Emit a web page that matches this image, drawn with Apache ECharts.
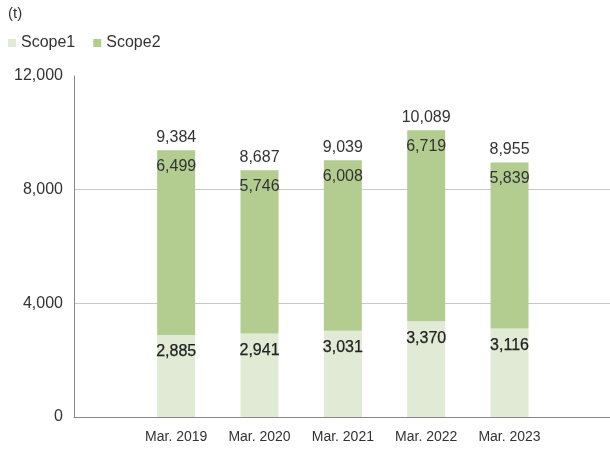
<!DOCTYPE html>
<html><head><meta charset="utf-8">
<script src="https://cdn.jsdelivr.net/npm/echarts@6/dist/echarts.min.js"></script>
<style>html,body{margin:0;padding:0;background:#fff}#c{width:610px;height:449px}</style>
</head><body><div id="c"></div>
<script>
var categories = ['Mar. 2019','Mar. 2020','Mar. 2021','Mar. 2022','Mar. 2023'];
var scope1 = [2885, 2941, 3031, 3370, 3116];
var scope2 = [6499, 5746, 6008, 6719, 5839];
var totals = [9384, 8687, 9039, 10089, 8955];
var yTicks = [0, 4000, 8000, 12000];

var FONT = '"Liberation Sans", Arial, sans-serif';
function fmt(v){ return Number(v).toLocaleString('en-US'); }

var chart = echarts.init(document.getElementById('c'), null, {renderer:'canvas'});
chart.setOption({
  animation: false,
  textStyle: {fontFamily: FONT},
  graphic: [{type:'text', left: 8, top: 6, style:{text:'(t)', fontSize: 15, fill:'#333', fontFamily: FONT}}],
  legend: {
    left: 3, top: 30, itemWidth: 8, itemHeight: 8, itemGap: 18, icon: 'rect',
    textStyle: {fontSize: 16, color: '#333', fontFamily: FONT},
    data: ['Scope1','Scope2']
  },
  grid: [
    {left: 74, right: 0, top: 76, bottom: 32, containLabel: false},
    {left: 134.5, width: 416.7, top: 76, bottom: 32, containLabel: false}
  ],
  xAxis: [
    {gridIndex: 0, type: 'value', min: 0, max: 1, axisLine: {show: true, lineStyle:{color:'#888', width: 1}},
     axisTick: {show:false}, axisLabel: {show:false}, splitLine: {show:false}},
    {gridIndex: 1, type: 'category', data: categories, axisLine:{show:false}, axisTick:{show:false},
     axisLabel:{fontSize: 14, color:'#333', margin: 13, fontFamily: FONT}}
  ],
  yAxis: [
    {gridIndex: 0, type: 'value', min: yTicks[0], max: yTicks[yTicks.length-1], interval: 4000,
     axisLine:{show:true, lineStyle:{color:'#888'}}, axisTick:{show:false},
     axisLabel:{fontSize: 16, color:'#333', margin: 11, formatter: function(v){return fmt(v);}, fontFamily: FONT},
     splitLine:{show:true, lineStyle:{color:['#c8c8c8','#c8c8c8','#c8c8c8','rgba(0,0,0,0)']}}},
    {gridIndex: 1, type: 'value', min: 0, max: 12000, show: false, splitLine:{show:false}}
  ],
  series: [
    {name:'Scope1', type:'bar', stack:'s', xAxisIndex:1, yAxisIndex:1, barWidth: 38, data: scope1,
     itemStyle:{color:'#e1ead4'},
     label:{show:true, position:'insideTop', distance: 9, fontSize: 16, color:'#222',
            textBorderColor:'#222', textBorderWidth: 0.25, formatter: function(p){return fmt(p.value);}, fontFamily: FONT}},
    {name:'Scope2', type:'bar', stack:'s', xAxisIndex:1, yAxisIndex:1, barWidth: 38, data: scope2,
     itemStyle:{color:'#b2cd8f'},
     label:{show:true, position:'insideTop', distance: 8, fontSize: 16, color:'#333',
            formatter: function(p){return fmt(p.value);}, fontFamily: FONT}},
    {name:'Total', type:'bar', stack:'s', xAxisIndex:1, yAxisIndex:1, barWidth: 38,
     data: totals.map(function(){return 0;}),
     itemStyle:{color:'rgba(0,0,0,0)'},
     label:{show:true, position:'top', distance: 5, fontSize: 16, color:'#333',
            formatter: function(p){return fmt(totals[p.dataIndex]);}, fontFamily: FONT}}
  ]
});
</script></body></html>
